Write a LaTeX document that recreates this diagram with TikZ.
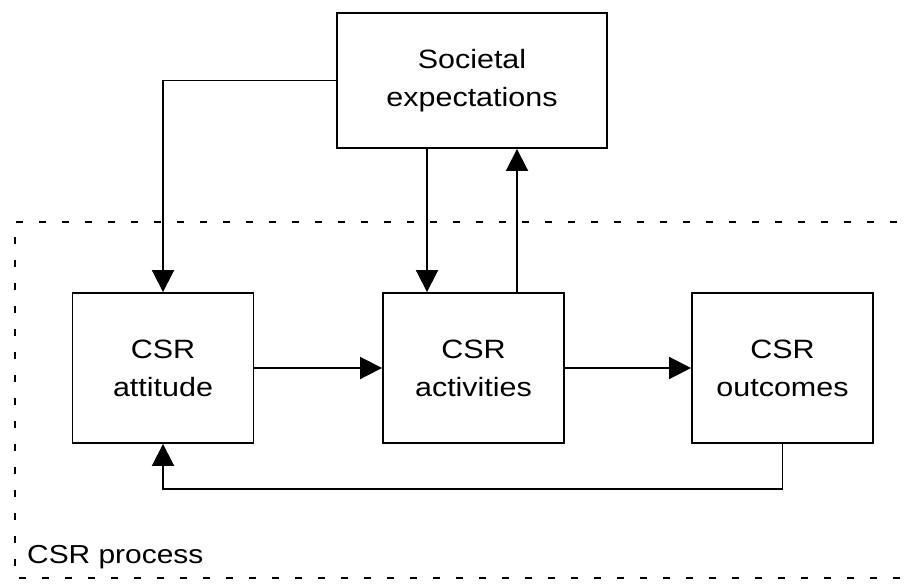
\documentclass[tikz,border=0pt]{standalone}
\usepackage{fontspec}
\setmainfont{Liberation Sans}[FakeStretch=1.15]
\usetikzlibrary{arrows.meta}
\begin{document}
\begin{tikzpicture}[x=1pt,y=-1pt,
  box/.style={draw, line width=1.9pt, minimum width=181pt, minimum height=150pt,
    align=center, inner sep=0pt, font=\fontsize{26.5}{38}\selectfont},
  link/.style={line width=1.9pt, -{Triangle[length=22pt,width=22pt]}},
  frame/.style={line width=1.9pt, dash pattern=on 7pt off 16pt},
  caption/.style={font=\fontsize{26}{30}\selectfont, inner sep=0pt}]
\useasboundingbox (0,0) rectangle (910,584);

% process frame (open to the right)
\draw[frame] (920,222) -- (15,222) -- (15,578) -- (920,578);
\node[caption, anchor=base west] (proc) at (27,563) {CSR process};

% boxes
\node[box, minimum width=270pt, minimum height=135pt] (soc) at (472,80.5) {Societal\\expectations};
\node[box] (att) at (163,368) {CSR\\attitude};
\node[box] (act) at (473.5,368) {CSR\\activities};
\node[box] (out) at (782.5,368) {CSR\\outcomes};

% connectors
\draw[link] (soc.west) -| (att.north);
\draw[link] ([xshift=-45pt]soc.south) -- ([xshift=-45pt]soc.south |- act.north);
\draw[link] ([xshift=45pt]soc.south |- act.north) -- ([xshift=45pt]soc.south);
\draw[link] (att.east) -- (act.west);
\draw[link] (act.east) -- (out.west);
\draw[link] (out.south) -- ++(0,45) -| (att.south);
\end{tikzpicture}
\end{document}
